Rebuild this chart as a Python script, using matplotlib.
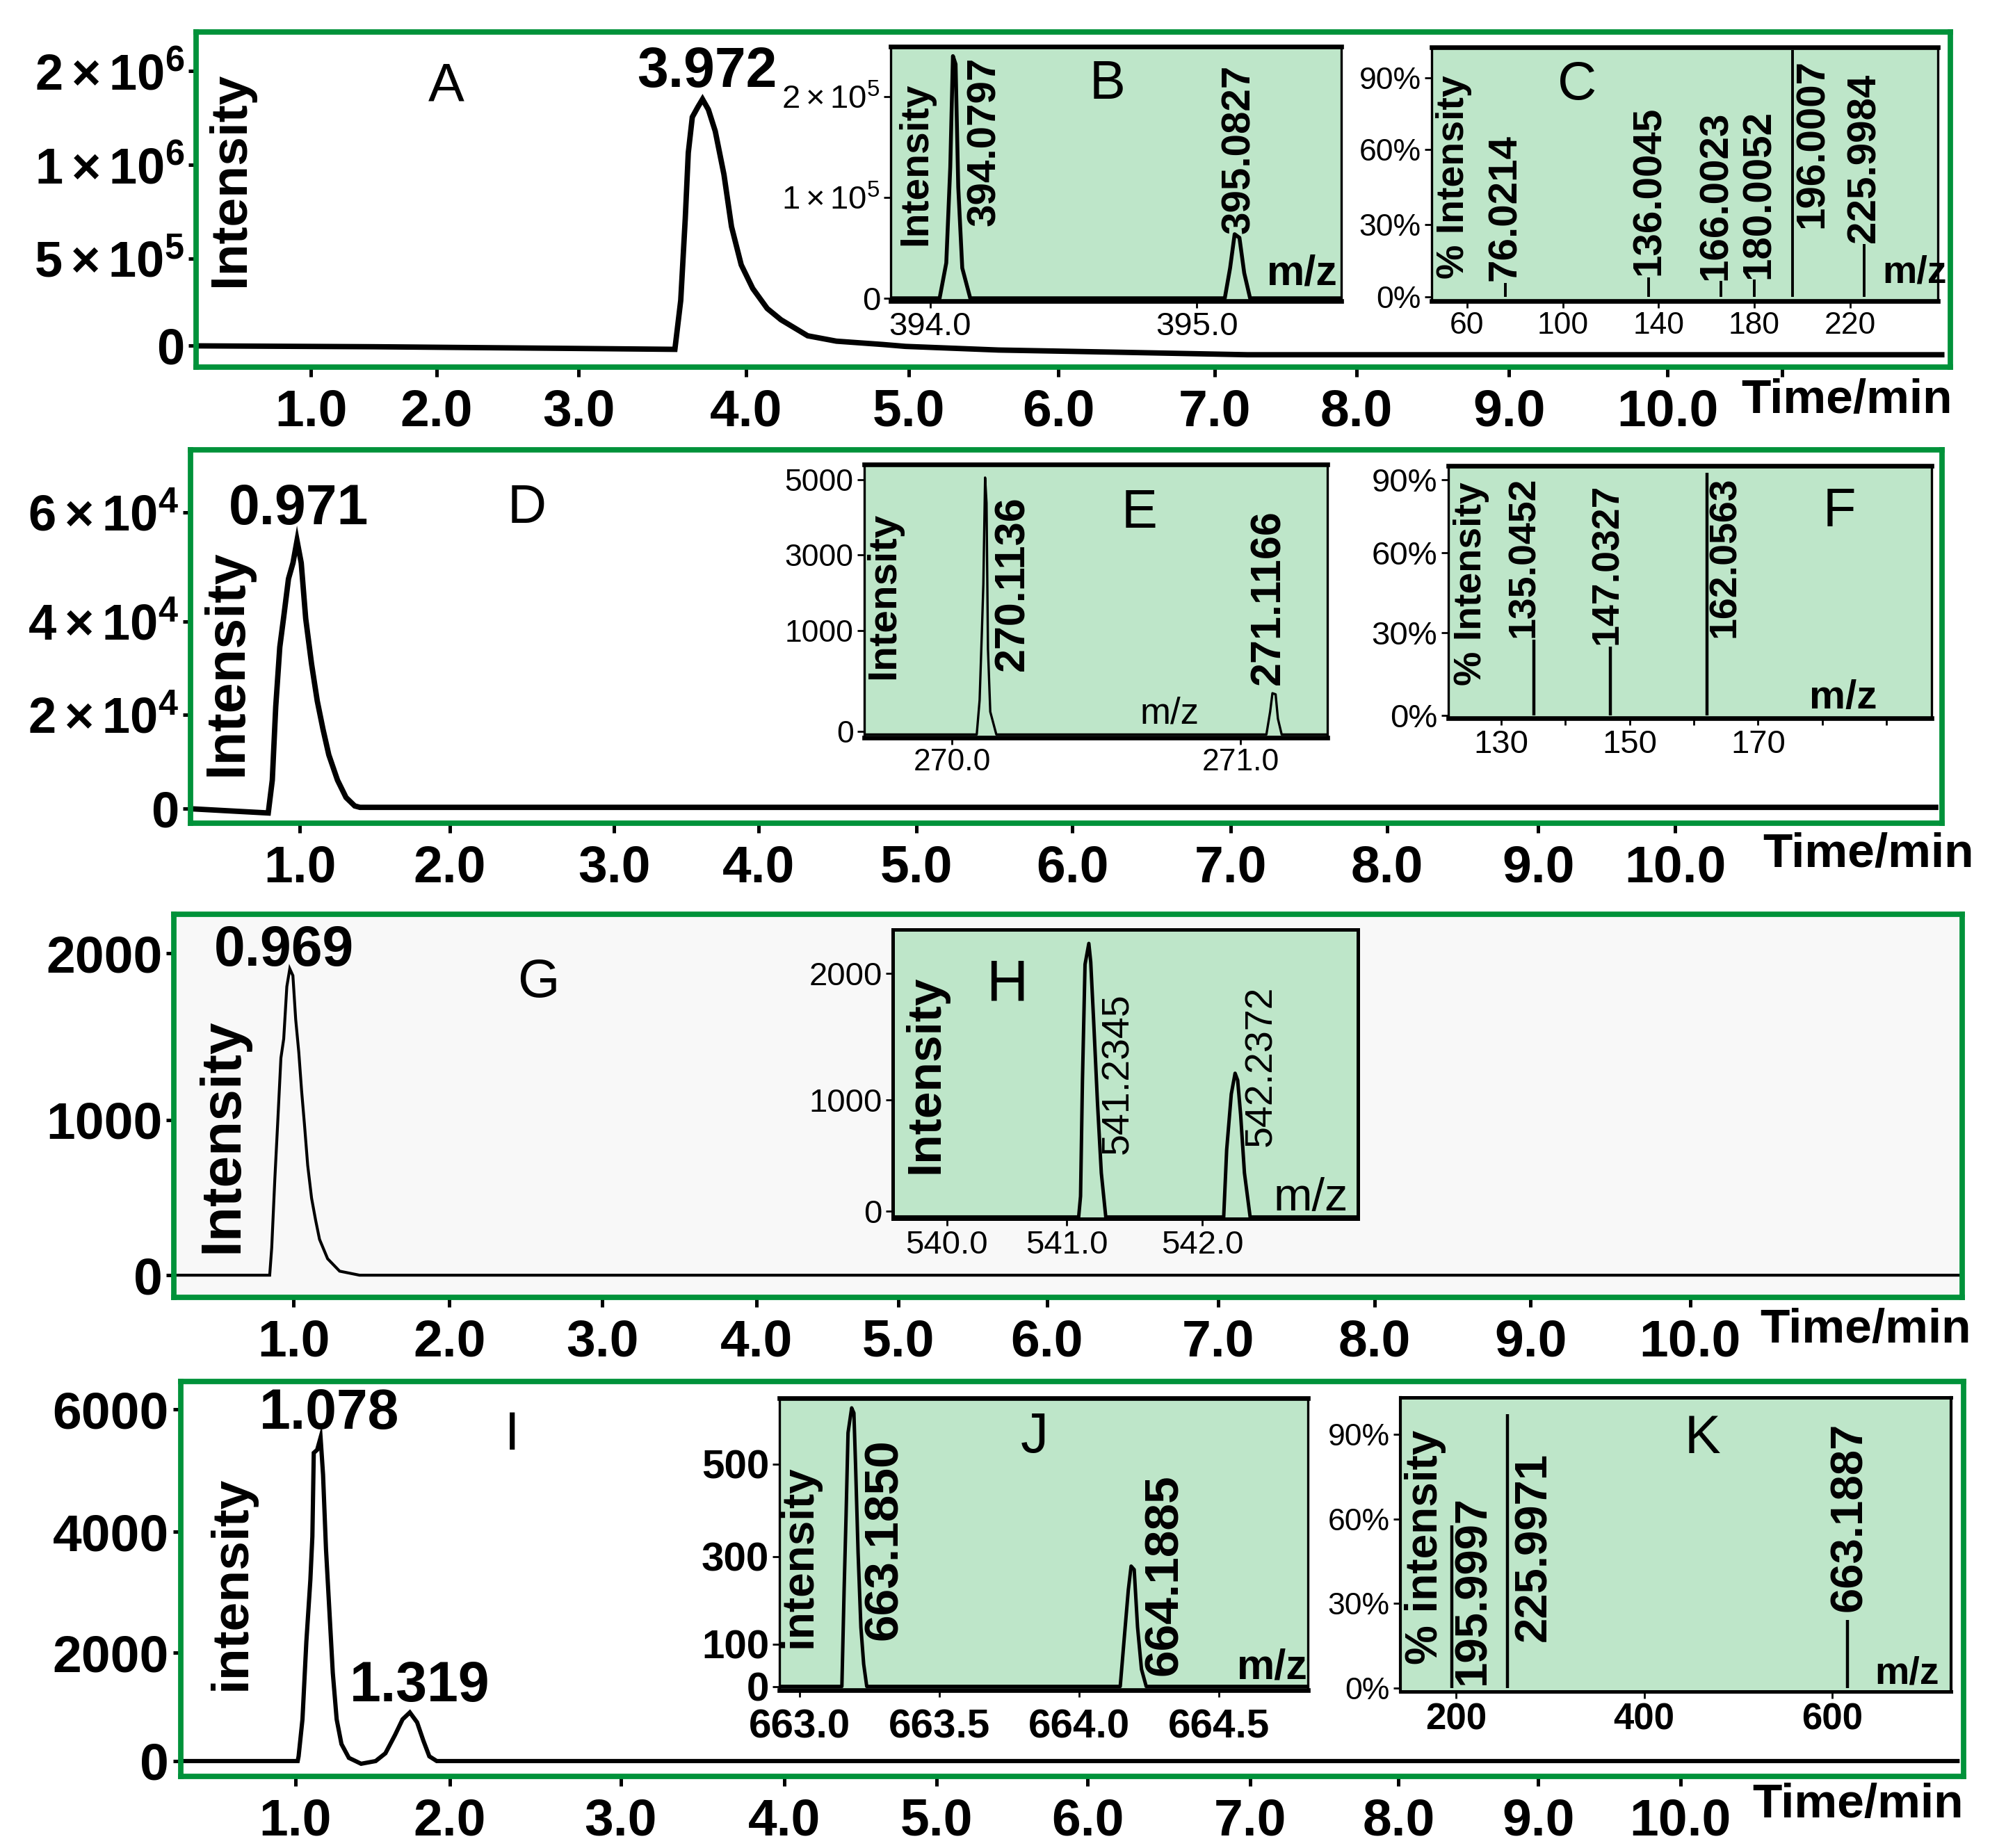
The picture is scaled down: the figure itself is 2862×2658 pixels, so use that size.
import numpy as np
import matplotlib.pyplot as plt

plt.rcParams['font.family'] = 'Liberation Sans'
plt.rcParams['mathtext.fontset'] = 'custom'
plt.rcParams['mathtext.rm'] = 'Liberation Sans'
plt.rcParams['mathtext.it'] = 'Liberation Sans:italic'
plt.rcParams['mathtext.bf'] = 'Liberation Sans:bold'

# layout grid: the reference seen at 1568 x 1456
W, H = 1568, 1456
GREEN = '#00923a'
MINT = '#bee6c9'

# ---------------- chromatograms (time / min, intensity) ----------------
a_time = [0.09, 1.5, 3.0, 3.574, 3.609, 3.636, 3.654, 3.678, 3.712, 3.739, 3.774, 3.815,
          3.867, 3.912, 3.970, 4.04, 4.129, 4.214, 4.378, 4.555, 4.84, 4.98, 5.6, 6.41, 7.23, 12.4]
a_int = [0, -5e3, -1.5e4, -2e4, 2.62e5, 7.16e5, 1.13e6, 1.51e6, 1.62e6, 1.70e6, 1.59e6, 1.36e6,
         9.49e5, 6.72e5, 4.66e5, 3.3e5, 2.15e5, 1.5e5, 5.8e4, 2.7e4, 8e3, -3e3, -2.4e4, -3.7e4, -5.1e4, -5.1e4]

d_time = [0.27, 0.788, 0.815, 0.838, 0.865, 0.892, 0.923, 0.953, 0.98, 1.008, 1.038, 1.077,
          1.115, 1.153, 1.192, 1.25, 1.307, 1.365, 1.40, 11.9]
d_int = [0, -900, 6.1e3, 2.18e4, 3.45e4, 4.1e4, 4.78e4, 5.07e4, 5.48e4, 5.07e4, 4.05e4, 3.09e4,
         2.3e4, 1.7e4, 1.15e4, 6.1e3, 2.4e3, 600, 300, 300]

g_time = [0.23, 0.846, 0.859, 0.879, 0.897, 0.918, 0.936, 0.956, 0.975, 0.995, 1.013, 1.033,
          1.051, 1.069, 1.09, 1.115, 1.141, 1.166, 1.218, 1.295, 1.423, 11.7]
g_int = [0, 0, 177, 620, 974, 1372, 1487, 1801, 1908, 1867, 1603, 1405,
         1174, 974, 708, 496, 354, 231, 106, 26, 0, 0]

i_time = [0.26, 1.016, 1.022, 1.047, 1.072, 1.098, 1.111, 1.12, 1.142, 1.164, 1.18, 1.199, 1.221,
          1.243, 1.268, 1.299, 1.347, 1.426, 1.52, 1.583, 1.646, 1.694, 1.741, 1.788, 1.829, 1.867, 1.915, 11.95]
i_int = [0, 0, 87, 770, 2179, 3205, 3924, 5293, 5343, 5544, 4938, 3718, 2694,
         1628, 770, 314, 59, -50, 0, 143, 485, 770, 897, 714, 372, 87, 0, 0]

# ---------------- mass spectra ----------------
b_mz = [393.85, 394.035, 394.06, 394.075, 394.085, 394.095, 394.105, 394.12, 394.15,
        395.105, 395.125, 395.142, 395.16, 395.178, 395.2, 395.54]
b_int = [0, 0, 0.35e5, 1.3e5, 2.40e5, 2.32e5, 1.1e5, 0.3e5, 0,
         0, 0.3e5, 0.635e5, 0.6e5, 0.25e5, 0, 0]
b_peaks = ['394.0797', '395.0827']

c_mz = [76.0214, 136.0045, 166.0023, 180.0052, 196.0007, 225.9984]
c_pct = [5.8, 8.2, 6.7, 7.2, 101.4, 22.1]
c_peaks = ['76.0214', '136.0045', '166.0023', '180.0052', '196.0007', '225.9984']

e_mz = [269.70, 270.085, 270.095, 270.103, 270.108, 270.114, 270.119, 270.124, 270.132, 270.153,
        271.09, 271.103, 271.111, 271.122, 271.13, 271.143, 271.31]
e_int = [-30, -30, 310, 1000, 2231, 5062, 4385, 816, 195, -30,
         -30, 195, 379, 368, 126, -30, -30]
e_peaks = ['270.1136', '271.1166']

f_mz = [135.0452, 147.0327, 162.0563]
f_pct = [27.5, 24.9, 92.9]
f_peaks = ['135.0452', '147.0327', '162.0563']

h_mz = [539.56, 541.089, 541.103, 541.117, 541.136, 541.164, 541.178, 541.2, 541.228, 541.256, 541.289,
        542.158, 542.18, 542.214, 542.242, 542.261, 542.283, 542.311, 542.353, 543.14]
h_int = [-52, -52, 135, 1156, 2073, 2239, 2092, 1615, 969, 344, -52,
         -52, 552, 1046, 1211, 1156, 865, 344, -52, -52]
h_peaks = ['541.2345', '542.2372']

j_mz = [662.93, 663.151, 663.159, 663.166, 663.173, 663.186, 663.194, 663.2, 663.209, 663.219, 663.229, 663.24,
        664.147, 664.161, 664.176, 664.186, 664.197, 664.209, 664.223, 664.24, 664.82]
j_int = [0, 0, 224, 389, 568, 622, 611, 497, 308, 139, 53, 0,
         0, 111, 224, 278, 270, 139, 41, 0, 0]
j_peaks = ['663.1850', '664.1885']

k_mz = [195.9, 254.8, 616.2]
k_pct = [57.8, 97.2, 24.1]
k_peaks = ['195.9997', '225.9971', '663.1887']

time_ticks = [f'{v:.1f}' for v in range(1, 11)]
pct_ticks = ['0%', '30%', '60%', '90%']


def box(x0, y0, x1, y1):
    return [x0 / W, 1 - y1 / H, (x1 - x0) / W, (y1 - y0) / H]


def warp(vals, pos):
    # piecewise linear scale through the printed tick positions
    v = np.asarray(vals, float)
    p = np.asarray(pos, float)

    def ext(x, xs, ys):
        x = np.asarray(x, float)
        y = np.interp(x, xs, ys)
        s0 = (ys[1] - ys[0]) / (xs[1] - xs[0])
        s1 = (ys[-1] - ys[-2]) / (xs[-1] - xs[-2])
        y = np.where(x < xs[0], ys[0] + (x - xs[0]) * s0, y)
        y = np.where(x > xs[-1], ys[-1] + (x - xs[-1]) * s1, y)
        return y

    return (lambda x: ext(x, v, p)), (lambda y: ext(y, p, v))


def axes_at(px, xv, xp, xl, yv, yp, yl, face):
    x0, y0, x1, y1 = px
    ax = fig.add_axes(box(*px), facecolor=face)
    fx, ix = warp(xv, xp)
    ax.set_xscale('function', functions=(fx, ix))
    ax.set_xlim(float(ix(x0)), float(ix(x1)))
    ax.set_xticks(xv, xl)
    fy, iy = warp(yv, [-p for p in yp])
    ax.set_yscale('function', functions=(fy, iy))
    ax.set_ylim(float(iy(-y1)), float(iy(-y0)))
    ax.set_yticks(yv, yl)
    ax.minorticks_off()
    return ax


def chrom(px, xp, yv, yp, yl, t, y, lw, face='white', ysize=27):
    n = len(xp)
    xl = (time_ticks + [''])[:n]
    ax = axes_at(px, list(range(1, n + 1)), xp, xl, yv, yp, yl, face)
    ax.plot(t, y, color='black', lw=lw, solid_joinstyle='miter')
    for s in ax.spines.values():
        s.set_color(GREEN)
        s.set_linewidth(2.8)
    ax.tick_params(axis='x', direction='out', length=5, width=1.8, pad=6, labelsize=27)
    ax.tick_params(axis='y', direction='out', length=4, width=1.8, pad=2, labelsize=ysize)
    for lab in ax.get_xticklabels() + ax.get_yticklabels():
        lab.set_fontweight('bold')
    return ax


def inset(px, xv, xp, xl, yv, yp, yl, size=16, bold=False, tb=2.4, lr=1.2):
    ax = axes_at(px, xv, xp, xl, yv, yp, yl, MINT)
    for k, s in ax.spines.items():
        s.set_color('black')
        s.set_linewidth(tb if k in ('top', 'bottom') else lr)
    ax.tick_params(direction='out', length=3.5, width=1, pad=2, labelsize=size)
    if bold:
        for lab in ax.get_xticklabels() + ax.get_yticklabels():
            lab.set_fontweight('bold')
    return ax


def peak_labels(ax, xs, ys, names, size, weight='bold'):
    for x, y, s in zip(xs, ys, names):
        ax.text(x, y, s, rotation=90, ha='center', va='bottom', fontsize=size, fontweight=weight)


def word(ax, x, y, s, size, weight='normal', rot=0):
    ax.text(x, y, s, ha='center', va='center', fontsize=size, fontweight=weight, rotation=rot)


fig = plt.figure(figsize=(14.31, 13.29), dpi=200)

# ---------------- main chromatogram panels ----------------
axA = chrom((154.5, 25.4, 1537, 289.2),
            [245, 344, 456, 588, 716, 834, 957, 1069, 1189, 1314, 1404],
            [0, 5e5, 1e6, 2e6], [272.5, 204, 130, 56],
            ['0', r'$\mathbf{5\times10^{5}}$', r'$\mathbf{1\times10^{6}}$', r'$\mathbf{2\times10^{6}}$'],
            a_time, a_int, 2.8, ysize=26)
word(axA, 2.07, 1.83e6, 'A', 28)
word(axA, 3.764, 1.99e6, '3.972', 29, 'bold')
word(axA, 0.362, 9.24e5, 'Intensity', 27, 'bold', 90)

axD = chrom((150, 354.2, 1530, 648.4),
            [236.4, 354.5, 484, 597.7, 722, 845, 970, 1093, 1212, 1320],
            [0, 2e4, 4e4, 6e4], [637.2, 563.3, 489.6, 403.5],
            ['0', r'$\mathbf{2\times10^{4}}$', r'$\mathbf{4\times10^{4}}$', r'$\mathbf{6\times10^{4}}$'],
            d_time, d_int, 2.8, ysize=26)
word(axD, 0.99, 6.04e4, '0.971', 29, 'bold')
word(axD, 2.467, 6.07e4, 'D', 28)
word(axD, 0.518, 3.12e4, 'Intensity', 28.5, 'bold', 90)

axG = chrom((137, 720.5, 1546, 1022),
            [231.4, 354.1, 474.6, 596.3, 708, 825, 960, 1083, 1206, 1331.6],
            [0, 1000, 2000], [1004.7, 882.4, 751.2], ['0', '1000', '2000'],
            g_time, g_int, 1.5, face='#f8f8f8')
word(axG, 0.936, 2016, '0.969', 29, 'bold')
word(axG, 2.583, 1822, 'G', 28)
word(axG, 0.545, 899, 'Intensity', 29.5, 'bold', 90)

axI = chrom((142.3, 1088.6, 1547, 1399.7),
            [232.6, 354.5, 489, 618, 738, 857, 985, 1102, 1212, 1324],
            [0, 2000, 4000, 6000], [1387.5, 1302.1, 1207, 1110.6], ['0', '2000', '4000', '6000'],
            i_time, i_int, 2.2)
word(axI, 1.221, 5923, '1.078', 29, 'bold')
word(axI, 1.804, 1370, '1.319', 29, 'bold')
word(axI, 2.366, 5577, 'I', 28)
word(axI, 0.59, 3155, 'intensity', 27, 'bold', 90)

for x, y in [(1455, 315.5), (1472, 673), (1470, 1048), (1464, 1422)]:
    fig.text(x / W, 1 - y / H, 'Time/min', ha='center', va='center', fontsize=25, fontweight='bold')

# ---------------- insets ----------------
axB = inset((702, 36.5, 1057, 237.3), [394.0, 395.0], [733, 943], ['394.0', '395.0'],
            [0, 1e5, 2e5], [235, 155.5, 76], ['0', r'$1\times10^{5}$', r'$2\times10^{5}$'], size=17)
axB.plot(b_mz, b_int, color='black', lw=2.0)
peak_labels(axB, [394.205, 395.16], [0.72e5, 0.64e5], b_peaks, 21)
word(axB, 393.945, 1.33e5, 'Intensity', 20.5, 'bold', 90)
word(axB, 394.665, 2.12e5, 'B', 28)
word(axB, 395.395, 0.24e5, 'm/z', 22, 'bold')

axC = inset((1128, 37, 1527, 237), [60, 100, 140, 180, 220], [1156, 1231.4, 1306.8, 1382.3, 1457.7],
            ['60', '100', '140', '180', '220'],
            [0, 30, 60, 90], [233.8, 177.2, 118.0, 61.2], pct_ticks, size=16)
axC.vlines(c_mz, 0, c_pct, color='black', lw=1.4)
peak_labels(axC, [76.0, 136.0, 164.0, 182.0, 204.5, 226.0], [6.5, 9, 7, 7.5, 28.8, 22.5], c_peaks, 21)
word(axC, 54.5, 49, '% Intensity', 20, 'bold', 90)
word(axC, 106, 87, 'C', 28)
word(axC, 247, 10, 'm/z', 20, 'bold')

axE = inset((681, 366, 1046, 581), [270.0, 271.0], [750.3, 977.4], ['270.0', '271.0'],
            [0, 1000, 3000, 5000], [576.3, 496.8, 437.4, 378.1], ['0', '1000', '3000', '5000'], size=16)
axE.plot(e_mz, e_int, color='black', lw=1.2)
peak_labels(axE, [270.212, 271.098], [600, 460], e_peaks, 22)
word(axE, 269.762, 1923, 'Intensity', 21, 'bold', 90)
word(axE, 270.648, 4108, 'E', 28)
word(axE, 270.754, 179, 'm/z', 19)

axF = inset((1141, 367, 1522, 566), [130, 150, 170], [1182.9, 1284.0, 1385.2], ['130', '150', '170'],
            [0, 30, 60, 90], [563.4, 498.6, 435.6, 378.1], pct_ticks, size=17)
axF.set_xticks([140, 160, 180, 190], minor=True)
axF.tick_params(which='minor', direction='out', length=3.5, width=1)
axF.vlines(f_mz, 0, f_pct, color='black', lw=1.6)
peak_labels(axF, [133.55, 146.57, 164.9], [28.3, 25.8, 28.3], f_peaks, 20)
word(axF, 125.3, 48.3, '% Intensity', 20, 'bold', 90)
word(axF, 182.7, 76.7, 'F', 28)
word(axF, 183.3, 6.3, 'm/z', 21, 'bold')

axH = inset((703.6, 732.5, 1070, 960.5), [540.0, 541.0, 542.0], [746, 840.4, 947.3],
            ['540.0', '541.0', '542.0'],
            [0, 1000, 2000], [954.3, 866.6, 767.1], ['0', '1000', '2000'], size=17, tb=1.8, lr=1.8)
axH.plot(h_mz, h_int, color='black', lw=1.8)
peak_labels(axH, [541.381, 542.436], [510, 583], h_peaks, 20, 'normal')
word(axH, 539.827, 1202, 'Intensity', 25, 'bold', 90)
word(axH, 540.503, 1908, 'H', 30)
word(axH, 542.8, 115, 'm/z', 24)

axJ = inset((614.4, 1101.8, 1030.6, 1331.7), [663.0, 663.5, 664.0, 664.5], [630.1, 740.2, 850.3, 960.4],
            ['663.0', '663.5', '664.0', '664.5'],
            [0, 100, 300, 500], [1328.7, 1295.5, 1226.3, 1153.6], ['0', '100', '300', '500'],
            size=21, bold=True)
axJ.tick_params(axis='x', pad=6)
axJ.plot(j_mz, j_int, color='black', lw=1.8)
peak_labels(axJ, [663.304, 664.307], [110, 25], j_peaks, 25)
word(axJ, 662.999, 300, 'intensity', 23, 'bold', 90)
word(axJ, 663.84, 557, 'J', 29)
word(axJ, 664.69, 44, 'm/z', 22, 'bold')

axK = inset((1103.4, 1101.3, 1537.2, 1332.9), [200, 400, 600], [1147.1, 1295.5, 1443.8],
            ['200', '400', '600'],
            [0, 30, 60, 90], [1330, 1263.3, 1196.7, 1130], pct_ticks, size=16, tb=1.8, lr=1.5)
for lab in axK.get_xticklabels():
    lab.set_fontweight('bold')
    lab.set_fontsize(19)
axK.vlines(k_mz, 0, k_pct, color='black', lw=1.6)
peak_labels(axK, [218.3, 283.2, 618.3], [1.3, 16.5, 27], k_peaks, 23.5)
word(axK, 167.5, 50, '% intensity', 23, 'bold', 90)
word(axK, 461.9, 88.3, 'K', 28)
word(axK, 679, 5, 'm/z', 20, 'bold')

fig.savefig('out.png', dpi=200)
